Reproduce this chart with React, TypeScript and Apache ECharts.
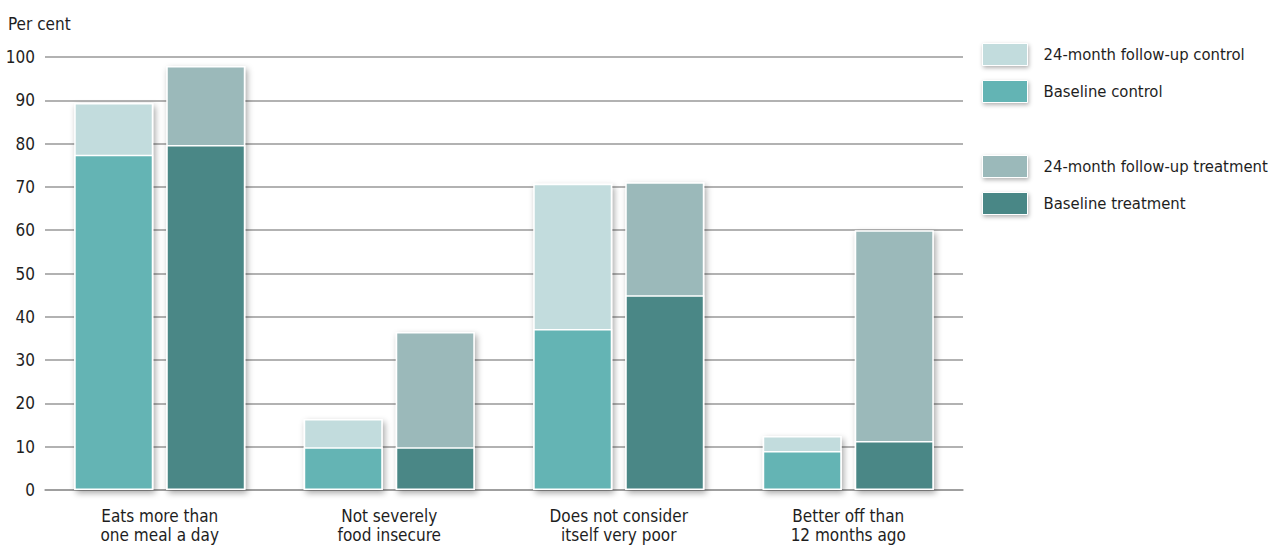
import React, { useEffect, useRef } from "react";
import * as echarts from "echarts";

const categories = [
  "Eats more than\none meal a day",
  "Not severely\nfood insecure",
  "Does not consider\nitself very poor",
  "Better off than\n12 months ago",
];
const followupControl = [89.4, 16.4, 70.7, 12.5];
const baselineControl = [77.4, 9.9, 37.2, 9.0];
const followupTreatment = [97.9, 36.5, 71.1, 60.0];
const baselineTreatment = [79.7, 9.9, 45.0, 11.3];

const NAMES = {
  fc: "24-month follow-up control",
  bc: "Baseline control",
  ft: "24-month follow-up treatment",
  bt: "Baseline treatment",
};
const COLORS = {
  fc: "#c2dcdd",
  bc: "#64b4b4",
  ft: "#9bb9ba",
  bt: "#4a8786",
};

const FONT = "'Liberation Sans Narrow', 'DejaVu Sans Condensed', 'Roboto', sans-serif";
const TEXT = "#1e1e1e";

export default function App() {
  const ref = useRef<HTMLDivElement>(null);
  useEffect(() => {
    if (!ref.current) return;
    const chart = echarts.init(ref.current, null, { renderer: "svg" });
    const shadow = {
      shadowBlur: 6,
      shadowColor: "rgba(0,0,0,0.35)",
      shadowOffsetX: 2,
      shadowOffsetY: 3,
    };
    const barCommon = {
      type: "bar",
      barWidth: 79,
      barGap: "16.5%",
    };
    const legendCommon = {
      orient: "vertical",
      left: 982,
      padding: 0,
      itemWidth: 45,
      itemHeight: 22,
      itemGap: 14,
      icon: "rect",
      selectedMode: false,
      itemStyle: {
        borderColor: "#fff",
        borderWidth: 1,
        shadowBlur: 4,
        shadowColor: "rgba(0,0,0,0.3)",
        shadowOffsetX: 1,
        shadowOffsetY: 2,
      },
      textStyle: { fontFamily: FONT, fontSize: 16.5, color: TEXT, padding: [0, 0, 0, 11] },
    };
    chart.setOption({
      animation: false,
      textStyle: { fontFamily: FONT },
      grid: { left: 45, right: 311, top: 57, bottom: 55, containLabel: false },
      graphic: [
        {
          type: "text",
          left: 8,
          top: 15,
          style: { text: "Per cent", fontFamily: FONT, fontSize: 17, fill: TEXT },
        },
      ],
      legend: [
        { ...legendCommon, top: 43, data: [NAMES.fc, NAMES.bc] },
        { ...legendCommon, top: 155, data: [NAMES.ft, NAMES.bt] },
      ],
      xAxis: [
        {
          type: "category",
          data: categories,
          axisLine: { show: true, lineStyle: { color: "#999", width: 1.5 } },
          axisTick: { show: false },
          axisLabel: {
            fontFamily: FONT,
            fontSize: 17,
            lineHeight: 19,
            color: TEXT,
            margin: 16,
            interval: 0,
          },
        },
        {
          type: "category",
          data: categories,
          show: false,
        },
      ],
      yAxis: {
        type: "value",
        min: 0,
        max: 100,
        interval: 10,
        axisLine: { show: false },
        axisTick: { show: false },
        splitLine: { lineStyle: { color: "#999", width: 1.5 } },
        axisLabel: { fontFamily: FONT, fontSize: 17, color: TEXT, margin: 10 },
      },
      series: [
        {
          ...barCommon,
          name: NAMES.fc,
          xAxisIndex: 0,
          data: followupControl,
          z: 2,
          itemStyle: { color: COLORS.fc, borderColor: "#fff", borderWidth: 1.5, ...shadow },
        },
        {
          ...barCommon,
          name: NAMES.ft,
          xAxisIndex: 0,
          data: followupTreatment,
          z: 2,
          itemStyle: { color: COLORS.ft, borderColor: "#fff", borderWidth: 1.5, ...shadow },
        },
        {
          ...barCommon,
          name: NAMES.bc,
          xAxisIndex: 1,
          data: baselineControl,
          z: 3,
          itemStyle: { color: COLORS.bc, borderColor: "#fff", borderWidth: 1.5 },
        },
        {
          ...barCommon,
          name: NAMES.bt,
          xAxisIndex: 1,
          data: baselineTreatment,
          z: 3,
          itemStyle: { color: COLORS.bt, borderColor: "#fff", borderWidth: 1.5 },
        },
      ],
    });
    return () => chart.dispose();
  }, []);
  return <div ref={ref} style={{ width: 1274, height: 545, position: "absolute", left: 0, top: 0 }} />;
}
